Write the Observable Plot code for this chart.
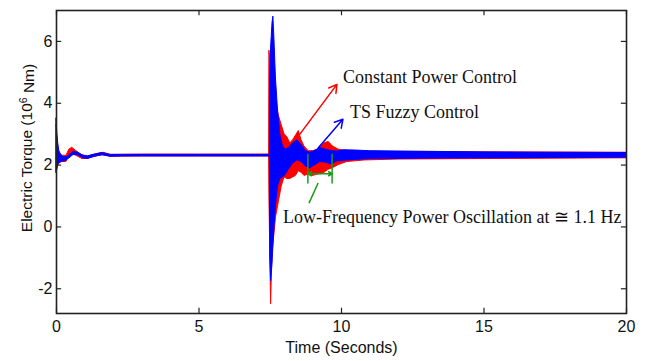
<!DOCTYPE html>
<html>
<head>
<meta charset="utf-8">
<script src="https://cdn.jsdelivr.net/npm/d3@7"></script>
<script src="https://cdn.jsdelivr.net/npm/@observablehq/plot@0.6"></script>
<style>
  html, body { margin: 0; padding: 0; background: #fff; }
</style>
</head>
<body>
<div id="chart"></div>
<script>
// ---- data (envelopes of the oscillating torque) ----
const blueT  = [0.00,0.03,0.06,0.10,0.15,0.25,0.35,0.50,0.60,0.75,0.95,1.10,1.30,1.60,1.90,2.30,3.0,4.0,5.0,6.0,7.0,7.49,7.50,7.53,7.58,7.61,7.65,7.70,7.77,7.85,7.95,8.05,8.15,8.30,8.45,8.60,8.75,8.90,9.05,9.25,9.45,9.65,9.85,10.1,10.5,11.0,12.0,13.0,15.0,17.0,20.0];
const blueLo = [1.75,1.85,2.00,2.05,2.10,2.12,2.15,2.25,2.33,2.32,2.22,2.20,2.26,2.32,2.27,2.28,2.28,2.28,2.28,2.28,2.28,2.28,-1.0,-1.75,-1.2,-0.6,0.0,0.7,1.3,1.55,1.60,1.70,1.85,2.05,2.15,2.10,1.95,1.90,1.98,2.10,2.08,2.02,2.12,2.14,2.17,2.19,2.20,2.21,2.22,2.23,2.24];
const blueHi = [3.50,3.00,2.70,2.45,2.35,2.25,2.25,2.35,2.43,2.40,2.30,2.28,2.33,2.39,2.33,2.33,2.33,2.33,2.33,2.33,2.33,2.33,4.5,5.8,6.6,6.8,6.0,4.8,3.8,3.0,2.60,2.50,2.55,2.70,2.80,2.65,2.45,2.40,2.45,2.55,2.50,2.45,2.44,2.48,2.47,2.45,2.44,2.43,2.41,2.40,2.39];

const redT  = [0.00,0.05,0.10,0.20,0.35,0.45,0.55,0.70,0.90,1.10,1.40,1.65,1.90,3.0,5.0,7.0,7.46,7.47,7.53,7.57,7.62,7.70,7.80,7.90,8.00,8.10,8.20,8.30,8.40,8.50,8.60,8.70,8.85,9.00,9.20,9.40,9.55,9.70,9.90,10.2,10.8,12.0,20.0];
const redLo = [1.80,1.95,2.05,2.10,2.10,2.30,2.35,2.30,2.20,2.20,2.28,2.32,2.27,2.28,2.28,2.28,2.28,1.0,-2.5,-1.0,-0.5,0.3,0.8,1.3,1.6,1.55,1.55,1.60,1.65,1.80,1.75,1.65,1.70,1.65,1.70,1.75,1.85,1.90,2.00,2.10,2.15,2.18,2.22];
const redHi = [3.30,2.60,2.40,2.30,2.30,2.50,2.56,2.45,2.32,2.28,2.35,2.40,2.33,2.34,2.34,2.34,2.34,5.7,5.2,4.8,4.5,4.0,3.6,3.3,3.0,2.9,2.7,2.8,2.95,3.1,2.8,2.6,2.45,2.45,2.5,2.7,2.75,2.6,2.5,2.45,2.43,2.42,2.40];

const xTicks = [0, 5, 10, 15, 20];
const yTicks = [-2, 0, 2, 4, 6];
const xLabel = "Time (Seconds)";
const yLabelParts = ["Electric Torque (10", "6", " Nm)"];

const notes = [
  {text: "Constant Power Control", t: 10.05, v: 4.65},
  {text: "TS Fuzzy Control", t: 10.3, v: 3.52},
  {text: "Low-Frequency Power Oscillation at \u2245 1.1 Hz", t: 7.95, v: 0.13}
];
const redArrow  = [{t1: 8.54, v1: 3.0, t2: 9.84, v2: 4.61}];
const blueArrow = [{t1: 9.18, v1: 2.55, t2: 10.05, v2: 3.48}];
const periodStart = 8.82, periodEnd = 9.67, periodLevel = 1.72;
const periodRuleLo = 1.39, periodRuleHi = 2.35;
const pointer = [{t1: 9.18, v1: 1.42, t2: 8.86, v2: 0.77}];

// ---- tables ----
const blue = blueT.map((t, i) => ({t, lo: blueLo[i], hi: blueHi[i]}));
const red  = redT.map((t, i) => ({t, lo: redLo[i], hi: redHi[i]}));
const xDom = [0, 20], yDom = [-2.8, 7];
const mid = (periodStart + periodEnd) / 2;
const periodArrows = [
  {t1: mid, v1: periodLevel, t2: periodStart, v2: periodLevel},
  {t1: mid, v1: periodLevel, t2: periodEnd, v2: periodLevel}
];
const green = "#1a9a1a";
const axisCol = "#222";

const chart = Plot.plot({
  width: 648,
  height: 361,
  marginLeft: 56,
  marginRight: 22,
  marginTop: 10,
  marginBottom: 48,
  style: {fontFamily: "Arial, 'Liberation Sans', sans-serif", fontSize: "16px", background: "#fff", color: "#111"},
  x: {domain: xDom, ticks: xTicks, tickSize: 0, tickPadding: 7, label: null, tickFormat: d => String(d)},
  y: {domain: yDom, ticks: yTicks, tickSize: 0, tickPadding: 4, label: null, tickFormat: d => String(d)},
  marks: [
    Plot.areaY(red, {x: "t", y1: "lo", y2: "hi", fill: "#ff0000", stroke: "#ff0000", strokeWidth: 1}),
    Plot.areaY(blue, {x: "t", y1: "lo", y2: "hi", fill: "#0000ff", stroke: "#0000ff", strokeWidth: 1}),
    Plot.arrow(redArrow, {x1: "t1", y1: "v1", x2: "t2", y2: "v2", stroke: "#ff0000", strokeWidth: 1.5, headLength: 9}),
    Plot.arrow(blueArrow, {x1: "t1", y1: "v1", x2: "t2", y2: "v2", stroke: "#0000ff", strokeWidth: 1.5, headLength: 9}),
    Plot.ruleX([periodStart, periodEnd], {x: d => d, y1: () => periodRuleLo, y2: () => periodRuleHi, stroke: green, strokeWidth: 1.5}),
    Plot.arrow(periodArrows, {x1: "t1", y1: "v1", x2: "t2", y2: "v2", stroke: green, strokeWidth: 1.5, headLength: 6}),
    Plot.link(pointer, {x1: "t1", y1: "v1", x2: "t2", y2: "v2", stroke: green, strokeWidth: 1.5}),
    Plot.text(notes, {x: "t", y: "v", text: "text", textAnchor: "start", lineAnchor: "bottom",
      fontFamily: "'Liberation Serif', 'Times New Roman', serif", fontSize: 18, fill: "#111"}),
    // inward ticks on all four sides
    Plot.ruleX(xTicks, {x: d => d, y1: () => yDom[0], y2: () => yDom[0] + 0.17, stroke: axisCol, strokeWidth: 1.2}),
    Plot.ruleX(xTicks, {x: d => d, y1: () => yDom[1], y2: () => yDom[1] - 0.17, stroke: axisCol, strokeWidth: 1.2}),
    Plot.ruleY(yTicks, {y: d => d, x1: () => xDom[0], x2: () => xDom[0] + 0.18, stroke: axisCol, strokeWidth: 1.2}),
    Plot.ruleY(yTicks, {y: d => d, x1: () => xDom[1], x2: () => xDom[1] - 0.18, stroke: axisCol, strokeWidth: 1.2}),
    Plot.frame({stroke: axisCol, strokeWidth: 1.6}),
    Plot.text([xLabel], {frameAnchor: "bottom", dy: 39, lineAnchor: "bottom", text: d => d, fontSize: 16, fill: "#111"})
  ]
});

// y-axis label with superscript
const svg = d3.select(chart);
const yl = svg.append("text")
  .attr("transform", "translate(31.5,148) rotate(-90)")
  .attr("text-anchor", "middle")
  .attr("font-size", 15.5)
  .attr("fill", "#111");
yl.append("tspan").text(yLabelParts[0]);
yl.append("tspan").attr("dy", "-0.45em").attr("font-size", 10.5).text(yLabelParts[1]);
yl.append("tspan").attr("dy", "0.45em").text(yLabelParts[2]);

document.getElementById("chart").appendChild(chart);
</script>
</body>
</html>
